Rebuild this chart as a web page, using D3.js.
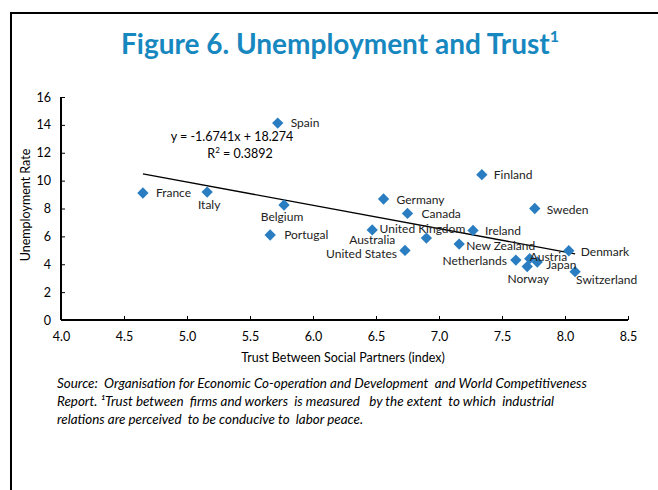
<!DOCTYPE html>
<html>
<head>
<meta charset="utf-8">
<script src="https://cdn.jsdelivr.net/npm/d3@7/dist/d3.min.js"></script>
<style>
  html, body { margin: 0; padding: 0; background: #fff; }
  svg { display: block; }
</style>
</head>
<body>
<svg id="chart" width="658" height="490"></svg>
<script>
// ---- data ----
const countries = ["Spain","France","Italy","Belgium","Portugal","Germany","Canada","Australia","United Kingdom","United States","New Zealand","Ireland","Finland","Sweden","Netherlands","Austria","Norway","Japan","Denmark","Switzerland"];
const trust =        [5.72, 4.65, 5.16, 5.77, 5.66, 6.56, 6.75, 6.47, 6.90, 6.73, 7.16, 7.27, 7.34, 7.76, 7.61, 7.72, 7.70, 7.78, 8.03, 8.08];
const unemployment = [14.13, 9.11, 9.18, 8.25, 6.10, 8.68, 7.65, 6.46, 5.88, 4.99, 5.45, 6.43, 10.43, 8.00, 4.30, 4.40, 3.83, 4.16, 4.97, 3.47];
const xTicks = [4.0, 4.5, 5.0, 5.5, 6.0, 6.5, 7.0, 7.5, 8.0, 8.5];
const yTicks = [0, 2, 4, 6, 8, 10, 12, 14, 16];
const slope = -1.6741, intercept = 18.274, r2 = 0.3892;

// label placement (style, not data)
const labelPos = {
  "Spain": {dx: 13, dy: 4, a: "start"},
  "France": {dx: 13, dy: 4, a: "start"},
  "Italy": {dx: 2, dy: 17, a: "middle"},
  "Belgium": {dx: -2, dy: 16, a: "middle"},
  "Portugal": {dx: 14, dy: 4, a: "start"},
  "Germany": {dx: 13, dy: 5, a: "start"},
  "Canada": {dx: 14, dy: 5, a: "start"},
  "Australia": {dx: 0, dy: 14, a: "middle"},
  "United Kingdom": {dx: -4, dy: -5, a: "middle"},
  "United States": {dx: -8, dy: 8, a: "end"},
  "New Zealand": {dx: 7, dy: 6, a: "start"},
  "Ireland": {dx: 12, dy: 5, a: "start"},
  "Finland": {dx: 12, dy: 4, a: "start"},
  "Sweden": {dx: 12, dy: 5, a: "start"},
  "Netherlands": {dx: -9, dy: 5, a: "end"},
  "Austria": {dx: 0, dy: 2, a: "start"},
  "Norway": {dx: 1, dy: 16, a: "middle"},
  "Japan": {dx: 9, dy: 7, a: "start"},
  "Denmark": {dx: 12, dy: 5, a: "start"},
  "Switzerland": {dx: 1, dy: 12, a: "start"}
};

const svg = d3.select("#chart");
const font = "Lato, 'Open Sans', sans-serif";
const blue = "#2a7dc0";

// frame
svg.append("path").attr("d", "M11,490 V13 H658").attr("fill", "none").attr("stroke", "#000").attr("stroke-width", 2);

// title
const title = svg.append("text").attr("x", 340).attr("y", 54).attr("text-anchor", "middle")
  .attr("font-family", font).attr("font-weight", "bold").attr("font-size", 28).attr("fill", "#1788bf");
title.append("tspan").text("Figure 6. Unemployment and Trust");
title.append("tspan").attr("dy", -12).attr("font-size", 16).text("1");

const x = d3.scaleLinear().domain([4, 8.5]).range([61, 628]);
const y = d3.scaleLinear().domain([0, 16]).range([320, 97]);

// axes
const xAxis = svg.append("g").attr("transform", `translate(0,${y(0)})`)
  .call(d3.axisBottom(x).tickValues(xTicks).tickSize(-4).tickPadding(10).tickFormat(d3.format(".1f")));
const yAxis = svg.append("g").attr("transform", `translate(${x(4)},0)`)
  .call(d3.axisLeft(y).tickValues(yTicks).tickSize(-4).tickPadding(10).tickFormat(d3.format("d")));
[xAxis, yAxis].forEach(g => {
  g.select(".domain").attr("stroke", "#000").attr("stroke-width", 2);
  g.selectAll(".tick line").attr("stroke", "#000").attr("stroke-width", 1);
  g.selectAll(".tick text").attr("font-family", font).attr("font-size", 12.5).attr("fill", "#000");
});
xAxis.select(".domain").attr("d", `M${x(4)},0H${x(8.5)}`);
yAxis.select(".domain").attr("d", `M0,${y(16)}V${y(0)}`);
xAxis.selectAll(".tick text").attr("dy", "0.9em");

// axis titles
svg.append("text").attr("x", 343).attr("y", 362).attr("text-anchor", "middle")
  .attr("font-family", font).attr("font-size", 12.5).text("Trust Between Social Partners (index)");
svg.append("text").attr("transform", "translate(30,205) rotate(-90)").attr("text-anchor", "middle")
  .attr("font-family", font).attr("font-size", 12.5).text("Unemployment Rate");

// trendline
const xMin = d3.min(trust), xMax = d3.max(trust);
svg.append("line")
  .attr("x1", x(xMin)).attr("y1", y(slope * xMin + intercept))
  .attr("x2", x(xMax)).attr("y2", y(slope * xMax + intercept))
  .attr("stroke", "#000").attr("stroke-width", 1.3);

// equation
svg.append("text").attr("x", 232).attr("y", 141).attr("text-anchor", "middle")
  .attr("font-family", font).attr("font-size", 12.5)
  .text(`y = ${slope}x + ${intercept}`);
const r2t = svg.append("text").attr("x", 240).attr("y", 158).attr("text-anchor", "middle")
  .attr("font-family", font).attr("font-size", 12.5);
r2t.append("tspan").text("R");
r2t.append("tspan").attr("dy", -5).attr("font-size", 8).text("2");
r2t.append("tspan").attr("dy", 5).text(` = ${r2}`);

// points
const pts = countries.map((c, i) => ({c, x: trust[i], y: unemployment[i]}));
svg.append("g").selectAll("path").data(pts).join("path")
  .attr("d", d3.symbol(d3.symbolSquare, 64))
  .attr("transform", d => `translate(${x(d.x)},${y(d.y)}) rotate(45)`)
  .attr("fill", blue);

svg.append("g").selectAll("text").data(pts).join("text")
  .attr("x", d => x(d.x) + labelPos[d.c].dx)
  .attr("y", d => y(d.y) + labelPos[d.c].dy)
  .attr("text-anchor", d => labelPos[d.c].a)
  .attr("font-family", font).attr("font-size", 12).attr("fill", "#222")
  .text(d => d.c);

// source note
const notes = [
  "Source:  Organisation for Economic Co-operation and Development  and World Competitiveness",
  "Report. \u00B9Trust between  firms and workers  is measured   by the extent  to which  industrial",
  "relations are perceived  to be conducive to  labor peace."
];
svg.append("g").selectAll("text").data(notes).join("text")
  .attr("x", 57).attr("y", (d, i) => 388 + i * 18)
  .attr("font-family", font).attr("font-style", "italic").attr("font-size", 13.4)
  .attr("xml:space", "preserve").style("white-space", "pre")
  .text(d => d);
</script>
</body>
</html>
